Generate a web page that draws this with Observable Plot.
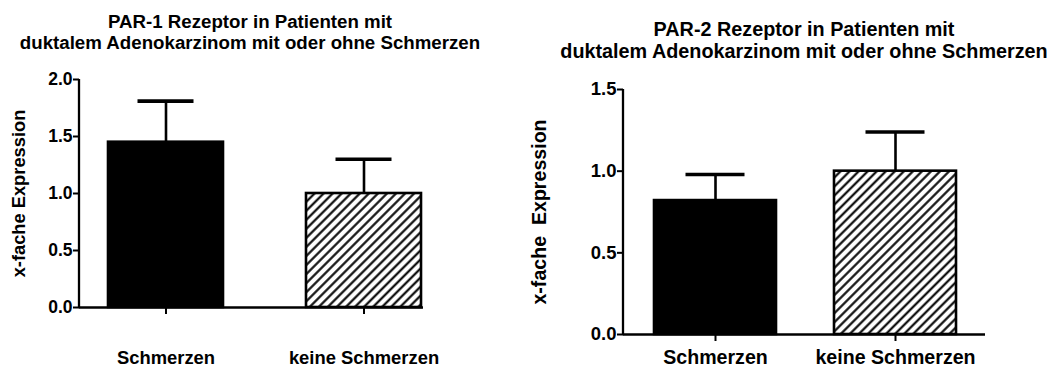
<!DOCTYPE html>
<html>
<head>
<meta charset="utf-8">
<script src="https://cdn.jsdelivr.net/npm/d3@7"></script>
<script src="https://cdn.jsdelivr.net/npm/@observablehq/plot@0.6"></script>
<style>
  body { margin: 0; background: #fff; }
  #wrap { position: relative; width: 1058px; height: 367px; overflow: hidden;
          font-family: "Liberation Sans", Arial, sans-serif; font-weight: bold; color: #000; background: #fff; }
  .title { position: absolute; text-align: center; white-space: nowrap; }
  .panel { position: absolute; }
  .panel svg { display: block; }
</style>
</head>
<body>
<div id="wrap"></div>
<script>
// ---- data ----
const categories = ["Schmerzen", "keine Schmerzen"];
const par1Mean = [1.45, 1.00];
const par1Sem  = [0.36, 0.30];
const par2Mean = [0.82, 1.00];
const par2Sem  = [0.16, 0.24];
const par1Ticks = [0, 0.5, 1.0, 1.5, 2.0];
const par2Ticks = [0, 0.5, 1.0, 1.5];
const par1Title = ["PAR-1 Rezeptor in Patienten mit", "duktalem Adenokarzinom mit oder ohne Schmerzen"];
const par2Title = ["PAR-2 Rezeptor in Patienten mit", "duktalem Adenokarzinom mit oder ohne Schmerzen"];
const par1YLabel = "x-fache Expression";
const par2YLabel = "x-fache\u00a0\u00a0Expression";

const wrap = document.getElementById("wrap");

function panel(cfg) {
  const rows = categories.map((c, i) => ({cat: c, mean: cfg.mean[i], sem: cfg.sem[i]}));
  const ymax = d3.max(cfg.ticks);
  const pid = "hatch-" + cfg.id;

  const t = document.createElement("div");
  t.className = "title";
  t.style.left = (cfg.titleCenter - 300) + "px";
  t.style.width = "600px";
  t.style.top = cfg.titleTop + "px";
  t.style.fontSize = cfg.titleSize + "px";
  t.style.lineHeight = cfg.titleLine + "px";
  t.innerHTML = cfg.title.join("<br>");
  wrap.appendChild(t);

  const chart = Plot.plot({
    width: cfg.width,
    height: cfg.height,
    marginLeft: cfg.ml,
    marginRight: cfg.mr,
    marginTop: cfg.mt,
    marginBottom: cfg.mb,
    style: {fontFamily: '"Liberation Sans", Arial, sans-serif', fontWeight: "bold", color: "#000", background: "#fff", overflow: "visible"},
    x: {domain: categories, range: cfg.xRange, paddingInner: cfg.padIn, paddingOuter: 0},
    y: {domain: [0, ymax]},
    color: {type: "identity"},
    marks: [
      (index, scales, values, dim) => {
        const g = d3.create("svg:g");
        const p = g.append("defs").append("pattern")
          .attr("id", pid)
          .attr("patternUnits", "userSpaceOnUse")
          .attr("width", 6.4).attr("height", 10)
          .attr("patternTransform", "rotate(45)");
        p.append("rect").attr("width", 6.4).attr("height", 10).attr("fill", "#fff");
        p.append("line").attr("x1", 3.2).attr("x2", 3.2).attr("y1", -1).attr("y2", 11)
          .attr("stroke", "#000").attr("stroke-width", 2.1);
        return g.node();
      },
      Plot.barY(rows, {x: "cat", y: "mean", fill: (d, i) => i === 0 ? "#000" : `url(#${pid})`, stroke: "#000", strokeWidth: 2.6}),
      Plot.ruleX(rows, {x: "cat", y1: "mean", y2: d => d.mean + d.sem, stroke: "#000", strokeWidth: 2.6}),
      Plot.tickY(rows, {x: "cat", y: d => d.mean + d.sem, stroke: "#000", strokeWidth: 3.6, insetLeft: cfg.capInset, insetRight: cfg.capInset}),
      Plot.ruleY([0], {stroke: "#000", strokeWidth: 2.3}),
      (index, scales, values, dim) => {
        const g = d3.create("svg:g");
        g.append("line")
          .attr("x1", dim.marginLeft).attr("x2", dim.marginLeft)
          .attr("y1", scales.y(0) + 1.1).attr("y2", scales.y(ymax))
          .attr("stroke", "#000").attr("stroke-width", 2.3);
        return g.node();
      },
      Plot.axisY({ticks: cfg.ticks, tickFormat: d3.format(".1f"), tickSize: 6, tickPadding: 1,
                  fontSize: cfg.tickSize, fontWeight: "bold", strokeWidth: 2, label: null}),
      Plot.axisX({tickSize: 7, tickPadding: cfg.xPad, fontSize: cfg.xSize, fontWeight: "bold", strokeWidth: 2, label: null}),
      Plot.text([cfg.yLabel], {text: d => d, frameAnchor: "left", rotate: -90, dx: cfg.yLabelDx,
                  textAnchor: "middle", lineAnchor: "middle", fontSize: cfg.yLabelSize, fontWeight: "bold", fill: "#000"})
    ]
  });

  const div = document.createElement("div");
  div.className = "panel";
  div.style.left = cfg.left + "px";
  div.style.top = cfg.top + "px";
  div.appendChild(chart);
  wrap.appendChild(div);
}

panel({
  id: 1, mean: par1Mean, sem: par1Sem, ticks: par1Ticks, title: par1Title, yLabel: par1YLabel,
  left: 0, top: 60, width: 530, height: 307, ml: 79, mr: 107, mt: 19, mb: 60,
  xRange: [107, 421], padIn: 0.42, capInset: 29.5,
  titleCenter: 250, titleTop: 11, titleSize: 18.7, titleLine: 21,
  tickSize: 17.5, xSize: 18.4, xPad: 36, yLabelSize: 18.3, yLabelDx: -60
});

panel({
  id: 2, mean: par2Mean, sem: par2Sem, ticks: par2Ticks, title: par2Title, yLabel: par2YLabel,
  left: 530, top: 70, width: 528, height: 297, ml: 93, mr: 73, mt: 19, mb: 33,
  xRange: [123, 426], padIn: 0.324, capInset: 31.5,
  titleCenter: 804, titleTop: 19, titleSize: 19.8, titleLine: 21.7,
  tickSize: 18.5, xSize: 19.6, xPad: 8.5, yLabelSize: 19.6, yLabelDx: -84
});
</script>
</body>
</html>
